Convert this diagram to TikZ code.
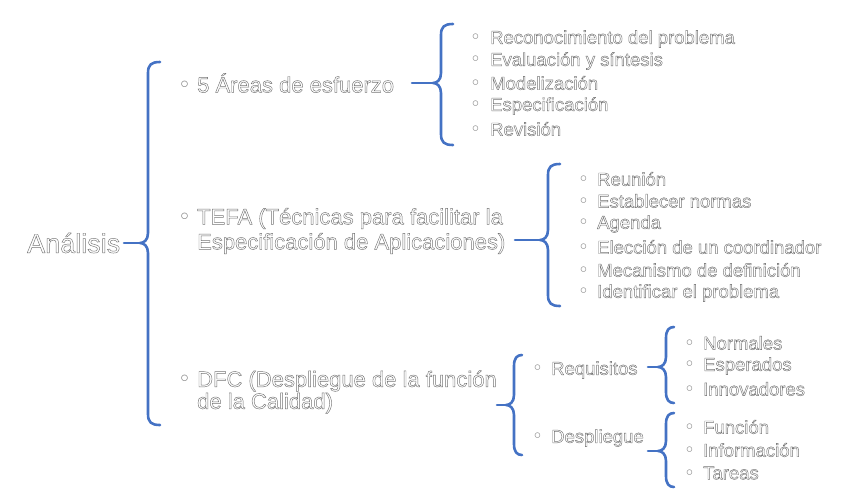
\documentclass[tikz,border=0pt]{standalone}
\usepackage{fontspec}
\setmainfont{Liberation Sans}
\newfontfamily\dejavu{DejaVu Sans}
\definecolor{bracecol}{HTML}{4472C4}
\definecolor{outl}{HTML}{7F7F7F}
\newcommand{\ct}[1]{\special{pdf:literal direct 2 Tr 0.45 w 0.45 0.45 0.45 RG}#1\special{pdf:literal direct 0 Tr}}
\newcommand{\bul}{{\dejavu\textcolor{outl}{◦}}}
\newcommand{\itm}[2]{\makebox[#1][l]{\bul}\ct{#2}}
\tikzset{
  lvA/.style={anchor=west, inner sep=0pt, text=white, font=\fontsize{27}{30}\selectfont},
  lvB/.style={anchor=west, inner sep=0pt, text=white, align=left, font=\fontsize{22}{25}\selectfont},
  lvC/.style={anchor=west, inner sep=0pt, text=white, font=\fontsize{18.5}{22}\selectfont},
  bracestyle/.style={draw=bracecol, line width=2.6pt, line cap=round, line join=round}
}
% #1 stub x, #2 vertical x, #3 top, #4 mid, #5 bottom, #6 hook length
\newcommand{\mybrace}[6]{%
  \draw[bracestyle] (#1,#4) -- (#2-8,#4);
  \draw[bracestyle] (#2+#6,#3) .. controls (#2+3,#3) and (#2,#3+3) .. (#2,#3+11)
     -- (#2,#4-10) .. controls (#2,#4-3) and (#2-4,#4) .. (#2-8,#4)
     .. controls (#2-4,#4) and (#2,#4+3) .. (#2,#4+10)
     -- (#2,#5-11) .. controls (#2,#5-3) and (#2+3,#5) .. (#2+#6,#5);
}
\begin{document}
\begin{tikzpicture}[x=1pt,y=-1pt]
\useasboundingbox (0,0) rectangle (851,499);
% root
\node[lvA] (root) at (27,243) {\ct{Análisis}};
\mybrace{124}{148}{62}{243}{425}{12}
% level 2
\node[lvB] (areas) at (178,83) {\itm{19pt}{5 Áreas de esfuerzo}};
\node[lvB] (tefa) at (178,231) {\itm{19pt}{TEFA (Técnicas para facilitar la}\\[0pt]\hspace*{19pt}\ct{Especificación de Aplicaciones)}};
\node[lvB] (dfc) at (178,392) {\itm{19pt}{DFC (Despliegue de la función}\\[-3pt]\hspace*{19pt}\ct{de la Calidad)}};
% areas
\mybrace{412}{441}{24}{83}{145}{12}
\node[lvC] (a1) at (470,39) {\itm{20pt}{Reconocimiento del problema}};
\node[lvC] (a2) at (470,61) {\itm{20pt}{Evaluación y síntesis}};
\node[lvC] (a3) at (470,83) {\itm{20pt}{Modelización}};
\node[lvC] (a4) at (470,106) {\itm{20pt}{Especificación}};
\node[lvC] (a5) at (470,129) {\itm{20pt}{Revisión}};
% tefa
\mybrace{515}{548}{164}{240}{306}{12}
\node[lvC] (t1) at (578,179) {\itm{19pt}{Reunión}};
\node[lvC] (t2) at (578,201) {\itm{19pt}{Establecer normas}};
\node[lvC] (t3) at (578,224) {\itm{19pt}{Agenda}};
\node[lvC] (t4) at (578,247) {\itm{19pt}{Elección de un coordinador}};
\node[lvC] (t5) at (578,270) {\itm{19pt}{Mecanismo de definición}};
\node[lvC] (t6) at (578,293) {\itm{19pt}{Identificar el problema}};
% dfc
\mybrace{497}{514}{355}{405}{455}{8}
\node[lvC] (r) at (532,370) {\itm{19pt}{Requisitos}};
\node[lvC] (d) at (532,438) {\itm{19pt}{Despliegue}};
\mybrace{648}{666}{327}{367}{403}{8}
\mybrace{648}{666}{413}{451}{487}{8}
\node[lvC] (r1) at (684,343) {\itm{19pt}{Normales}};
\node[lvC] (r2) at (684,366) {\itm{19pt}{Esperados}};
\node[lvC] (r3) at (684,389) {\itm{19pt}{Innovadores}};
\node[lvC] (d1) at (684,427) {\itm{19pt}{Función}};
\node[lvC] (d2) at (684,450) {\itm{19pt}{Información}};
\node[lvC] (d3) at (684,473) {\itm{19pt}{Tareas}};
\end{tikzpicture}
\end{document}
